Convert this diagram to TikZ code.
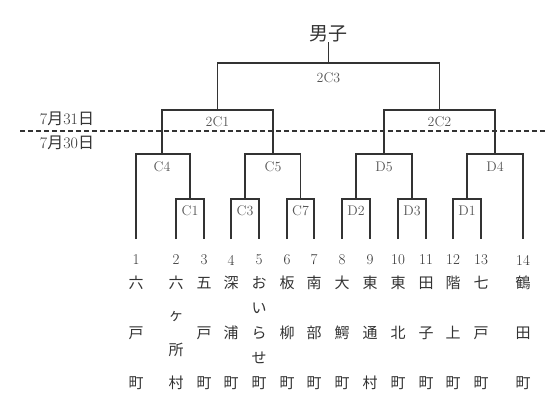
\documentclass[tikz,border=0pt]{standalone}
\usepackage{fontspec}
\newfontfamily\jp{Noto Sans CJK JP}
\definecolor{ink}{HTML}{333333}
\definecolor{labink}{HTML}{555555}
\newcommand\townname[3]{%
  \foreach \ch [count=\k] in {#3} {\xdef\nch{\k}}%
  \foreach \ch [count=\k] in {#3} {%
    \node[town] (t#2-\k) at (#1, {283+(\k-1)*100/(\nch-1)}) {\ch};}%
}
\begin{document}
\begin{tikzpicture}[x=1pt,y=-1pt,
  bline/.style={draw=ink,line width=1.4pt,line join=miter},
  lab/.style={font=\fontsize{14}{14}\selectfont,text=labink,inner sep=0pt},
  num/.style={font=\fontsize{15}{15}\selectfont,text=ink,inner sep=0pt},
  town/.style={font=\jp\fontsize{15}{15}\selectfont,text=ink,inner sep=0pt},
  datelab/.style={font=\fontsize{16}{16}\selectfont,text=ink,inner sep=0pt},
  dayline/.style={draw=ink,line width=1.1pt,dash pattern=on 5pt off 3pt}]
\useasboundingbox (0,0) rectangle (548,405);
% leaf ends
\foreach \n/\x in {1/136,2/176,3/204,4/231,5/259,6/287,7/314,8/342,9/370,10/398,11/426,12/453,13/481,14/523}
  \coordinate (L\n) at (\x,239);
% match tops
\coordinate (C1) at (190,199);
\coordinate (C3) at (245,199);
\coordinate (C7) at (300.5,199);
\coordinate (D2) at (356,199);
\coordinate (D3) at (412,199);
\coordinate (D1) at (467,199);
\coordinate (C4) at (162,154);
\coordinate (C5) at (273,154);
\coordinate (D5) at (384,154);
\coordinate (D4) at (495,154);
\coordinate (S1) at (217.5,110);
\coordinate (S2) at (439.5,110);
\coordinate (F) at (328.5,63);
% title
\node[font=\jp\fontsize{19}{19}\selectfont,text=ink,inner sep=0pt,anchor=south] (top) at (328.5,42) {男子};
% brackets
\draw[bline] (L2) |- (C1) -| (L3);
\draw[bline] (L4) |- (C3) -| (L5);
\draw[bline] (L6) |- (C7) -| (L7);
\draw[bline] (L8) |- (D2) -| (L9);
\draw[bline] (L10) |- (D3) -| (L11);
\draw[bline] (L12) |- (D1) -| (L13);
\draw[bline] (L1) |- (C4) -| (C1);
\draw[bline] (C3) |- (C5) -| (C7);
\draw[bline] (D2) |- (D5) -| (D3);
\draw[bline] (D1) |- (D4) -| (L14);
\draw[bline] (C4) |- (S1) -| (C5);
\draw[bline] (D5) |- (S2) -| (D4);
\draw[bline] (S1) |- (F) -| (S2);
\draw[bline] (F) -- (top.south);
% match labels
\node[lab] (lC1) at (190,211) {C1};
\node[lab] (lC3) at (245,211) {C3};
\node[lab] (lC7) at (300.5,211) {C7};
\node[lab] (lD2) at (356,211) {D2};
\node[lab] (lD3) at (412,211) {D3};
\node[lab] (lD1) at (467,211) {D1};
\node[lab] (lC4) at (162,167) {C4};
\node[lab] (lC5) at (273,167) {C5};
\node[lab] (lD5) at (384,167) {D5};
\node[lab] (lD4) at (495,167) {D4};
\node[lab] (lS1) at (217.5,122) {2C1};
\node[lab] (lS2) at (439.5,122) {2C2};
\node[lab] (lF) at (328.5,78) {2C3};
% day boundary
\coordinate (dA) at (20,131);
\coordinate (dB) at (548,131);
\draw[dayline] (dA) -- (dB);
\node[datelab] (d31) at (67,119) {7{\jp 月}31{\jp 日}};
\node[datelab] (d30) at (67,143) {7{\jp 月}30{\jp 日}};
% leaf numbers
\foreach \n/\x in {1/136,2/176,3/204,4/231,5/259,6/287,7/314,8/342,9/370,10/398,11/426,12/453,13/481,14/523}
  \node[num] (n\n) at (\x,260) {\n};
% town names
\townname{136}{1}{六,戸,町}
\townname{176}{2}{六,ヶ,所,村}
\townname{204}{3}{五,戸,町}
\townname{231}{4}{深,浦,町}
\townname{259}{5}{お,い,ら,せ,町}
\townname{287}{6}{板,柳,町}
\townname{314}{7}{南,部,町}
\townname{342}{8}{大,鰐,町}
\townname{370}{9}{東,通,村}
\townname{398}{10}{東,北,町}
\townname{426}{11}{田,子,町}
\townname{453}{12}{階,上,町}
\townname{481}{13}{七,戸,町}
\townname{523}{14}{鶴,田,町}
\end{tikzpicture}
\end{document}
